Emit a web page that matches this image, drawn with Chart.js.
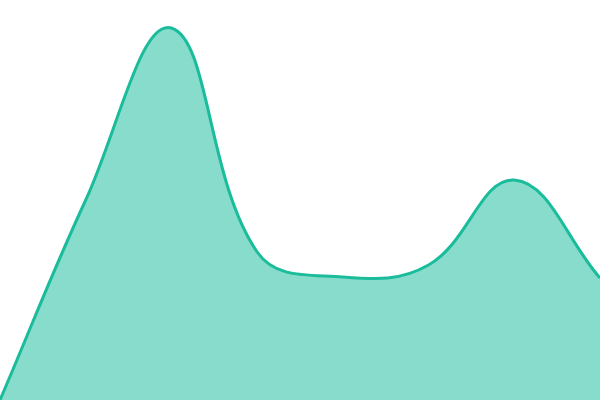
<!DOCTYPE html>
<html>
<head>
<meta charset="utf-8">
<script src="https://cdn.jsdelivr.net/npm/chart.js@4"></script>
<style>
  html, body { margin: 0; padding: 0; background: #fff; }
  #wrap { width: 600px; height: 400px; }
</style>
</head>
<body>
<div id="wrap"><canvas id="chart"></canvas></div>
<script>
// Series data
const labels = ['1', '2', '3', '4', '5', '6', '7', '8']
const values = [0, 50, 93, 37, 30.75, 33.75, 55, 30.5]

const LINE = '#1abc9c'
const FILL = 'rgba(26,188,156,0.52)'

new Chart(document.getElementById('chart'), {
  type: 'line',
  data: {
    labels,
    datasets: [{
      data: values,
      borderColor: LINE,
      backgroundColor: FILL,
      borderWidth: 3,
      fill: true,
      tension: 0.4,
      pointRadius: 0,
    }],
  },
  options: {
    responsive: true,
    maintainAspectRatio: false,
    animation: false,
    layout: { padding: 0 },
    plugins: { legend: { display: false }, tooltip: { enabled: false } },
    scales: {
      x: { display: false },
      y: { display: false, min: 0, max: 100 },
    },
  },
})
</script>
</body>
</html>
